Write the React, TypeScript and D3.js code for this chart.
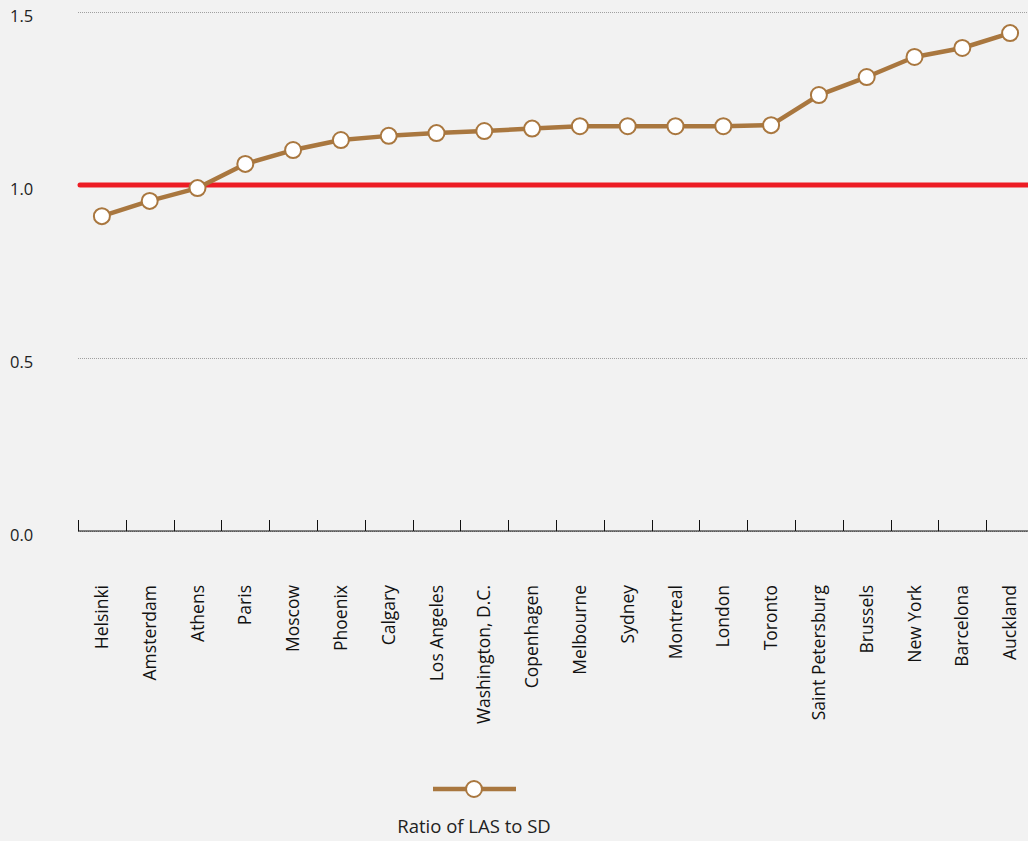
import React, { useEffect, useRef } from 'react';
import * as d3 from 'd3';

const cities = [
  'Helsinki', 'Amsterdam', 'Athens', 'Paris', 'Moscow', 'Phoenix', 'Calgary',
  'Los Angeles', 'Washington, D.C.', 'Copenhagen', 'Melbourne', 'Sydney',
  'Montreal', 'London', 'Toronto', 'Saint Petersburg', 'Brussels', 'New York',
  'Barcelona', 'Auckland',
];
const ratios = [
  0.91, 0.954, 0.991, 1.061, 1.101, 1.13, 1.142, 1.15, 1.156, 1.163, 1.17,
  1.17, 1.17, 1.17, 1.173, 1.26, 1.312, 1.37, 1.396, 1.439,
];
const yTicks = [0, 0.5, 1.0, 1.5];
const referenceValue = 1.0;
const seriesName = 'Ratio of LAS to SD';

const W = 1028;
const H = 841;
const FONT = '"Open Sans", "Noto Sans", sans-serif';
const BROWN = '#a9773f';

const App = () => {
  const ref = useRef<SVGSVGElement>(null);

  useEffect(() => {
    const svg = d3.select(ref.current);
    svg.selectAll('*').remove();

    const x = d3.scaleBand().domain(cities).range([78, 1034]);
    const y = d3.scaleLinear().domain([0, 1.5]).range([531, 12]);

    svg.append('rect').attr('width', W).attr('height', H).attr('fill', '#f2f2f2');

    // dotted grid
    svg.append('g')
      .selectAll('line')
      .data(yTicks)
      .enter()
      .append('line')
      .attr('x1', 78)
      .attr('x2', W)
      .attr('y1', d => y(d) + 0.5)
      .attr('y2', d => y(d) + 0.5)
      .attr('stroke', '#a0a0a0')
      .attr('stroke-width', 1)
      .attr('stroke-dasharray', '1,1');

    // y labels
    svg.append('g')
      .selectAll('text')
      .data(yTicks)
      .enter()
      .append('text')
      .attr('x', 10)
      .attr('y', d => y(d) + 4)
      .attr('dy', '0.35em')
      .attr('font-family', FONT)
      .attr('font-size', 16.5)
      .attr('fill', '#222')
      .text(d => d.toFixed(1));

    // x axis line and ticks
    svg.append('line')
      .attr('x1', 78).attr('x2', W)
      .attr('y1', 531).attr('y2', 531)
      .attr('stroke', '#111').attr('stroke-width', 1.2);
    svg.append('g')
      .selectAll('line')
      .data(cities)
      .enter()
      .append('line')
      .attr('x1', d => Math.round(x(d)!) + 0.5)
      .attr('x2', d => Math.round(x(d)!) + 0.5)
      .attr('y1', 520)
      .attr('y2', 531)
      .attr('stroke', '#111');

    // x labels
    svg.append('g')
      .selectAll('text')
      .data(cities)
      .enter()
      .append('text')
      .attr('transform', d => `translate(${x(d)! + x.bandwidth() / 2},585) rotate(-90)`)
      .attr('text-anchor', 'end')
      .attr('dy', '0.35em')
      .attr('font-family', FONT)
      .attr('font-size', 17.5)
      .attr('fill', '#111')
      .text(d => d);

    // reference line
    svg.append('line')
      .attr('x1', 80).attr('x2', W + 5)
      .attr('y1', y(referenceValue)).attr('y2', y(referenceValue))
      .attr('stroke', '#ed1c24')
      .attr('stroke-width', 5)
      .attr('stroke-linecap', 'round');

    // series
    const pts = cities.map((c, i) => ({ c, v: ratios[i] }));
    const line = d3.line<{ c: string; v: number }>()
      .x(d => x(d.c)! + x.bandwidth() / 2)
      .y(d => y(d.v));
    svg.append('path')
      .datum(pts)
      .attr('d', line)
      .attr('fill', 'none')
      .attr('stroke', BROWN)
      .attr('stroke-width', 4.5)
      .attr('stroke-linejoin', 'round');
    svg.append('g')
      .selectAll('circle')
      .data(pts)
      .enter()
      .append('circle')
      .attr('cx', d => x(d.c)! + x.bandwidth() / 2)
      .attr('cy', d => y(d.v))
      .attr('r', 8)
      .attr('fill', '#fff')
      .attr('stroke', BROWN)
      .attr('stroke-width', 2);

    // legend
    const lg = svg.append('g').attr('transform', 'translate(474,789)');
    lg.append('line')
      .attr('x1', -41).attr('x2', 42)
      .attr('stroke', BROWN).attr('stroke-width', 4.5);
    lg.append('circle')
      .attr('r', 8)
      .attr('fill', '#fff')
      .attr('stroke', BROWN)
      .attr('stroke-width', 2);
    lg.append('text')
      .attr('y', 38)
      .attr('dy', '0.35em')
      .attr('text-anchor', 'middle')
      .attr('font-family', FONT)
      .attr('font-size', 18.5)
      .attr('fill', '#222')
      .text(seriesName);
  }, []);

  return (
    <div style={{ position: 'fixed', left: 0, top: 0, width: W, height: H, background: '#f2f2f2' }}>
      <svg ref={ref} width={W} height={H} style={{ display: 'block' }}></svg>
    </div>
  );
};

export default App;
